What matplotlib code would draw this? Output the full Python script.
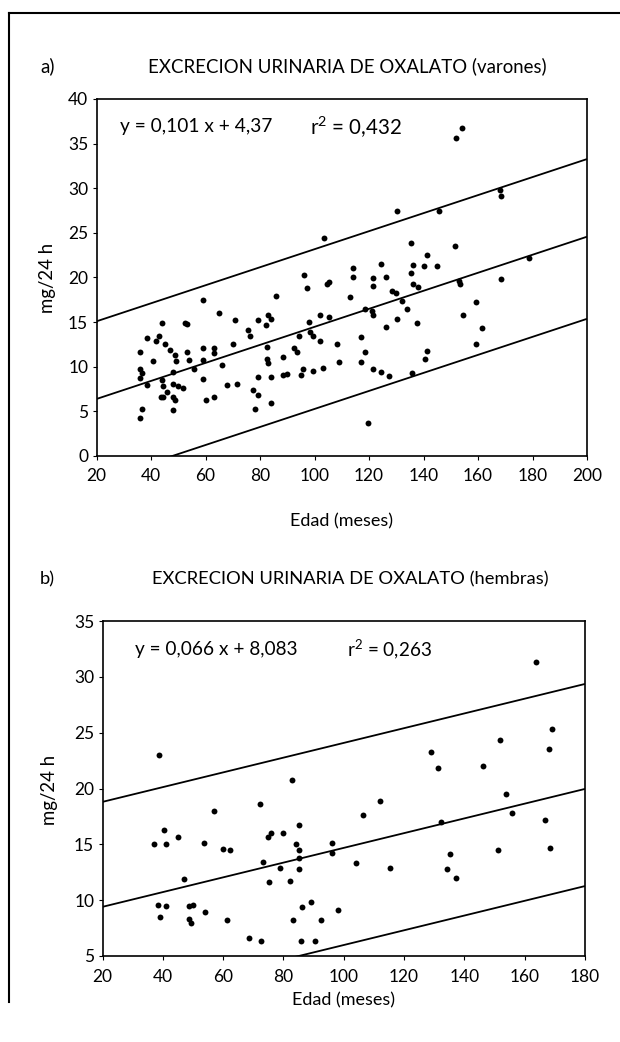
import matplotlib
matplotlib.use("Agg")
import matplotlib.pyplot as plt
from matplotlib.lines import Line2D
import numpy as np

FAM = 'Lato'
plt.rcParams['font.family'] = [FAM, 'DejaVu Sans']
plt.rcParams['mathtext.fontset'] = 'custom'
plt.rcParams['mathtext.rm'] = FAM

# ---------------- data: panel a (varones) ----------------
a_x = [103.6, 96.3, 97.1, 104.5, 105.4, 85.9, 59.2, 113.0, 65.1, 53.3, 52.5, 43.9, 70.8, 79.2,
       83.0, 83.9, 82.1, 75.7, 76.3, 98.1, 102.0, 105.4, 98.3, 99.3, 94.2, 102.0, 108.4, 109.1,
       103.2, 99.3, 95.9, 94.9, 92.6, 93.5, 88.3, 89.8, 88.3, 82.7, 82.5, 82.8, 84.0, 84.0, 79.2,
       77.3, 79.2, 78.2, 70.0, 66.1, 63.1, 63.1, 59.2, 59.2, 55.8, 59.2, 68.0, 71.7, 60.1, 63.1,
       53.1, 53.8, 48.8, 49.2, 47.0, 45.1, 41.7, 42.9, 38.6, 36.0, 40.6, 36.0, 36.6, 36.0, 38.6,
       43.9, 44.3, 48.0, 48.2, 50.0, 51.9, 46.0, 43.6, 44.5, 48.0, 48.8, 48.0, 36.6, 36.0,
       124.3, 136.3, 140.2, 145.1, 114.2, 114.2, 121.4, 121.4, 126.2, 135.4, 136.3, 138.1, 128.3,
       129.9, 153.1, 153.3, 168.4, 132.0, 134.0, 118.5, 121.0, 121.4, 130.2, 137.5, 126.2, 154.4,
       159.2, 161.4, 159.3, 117.1, 118.5, 117.1, 121.4, 124.3, 127.3, 135.7, 141.4, 140.6, 119.7,
       154.0, 151.9, 130.2, 145.8, 168.1, 168.3, 135.4, 151.6, 141.2, 178.7]
a_y = [24.4, 20.3, 18.8, 19.3, 19.5, 17.9, 17.5, 17.8, 16.0, 14.8, 14.9, 14.9, 15.2, 15.2,
       15.8, 15.3, 14.7, 14.1, 13.4, 15.0, 15.8, 15.6, 13.9, 13.5, 13.5, 12.9, 12.5, 10.5,
       9.9, 9.5, 9.8, 9.1, 12.1, 11.7, 11.1, 9.2, 9.1, 12.2, 10.9, 10.4, 8.8, 5.9, 8.8,
       7.4, 6.8, 5.3, 12.5, 10.2, 12.1, 11.5, 12.1, 10.8, 9.7, 8.6, 8.0, 8.1, 6.3, 6.6,
       11.6, 10.8, 11.3, 10.6, 11.9, 12.6, 12.9, 13.5, 13.2, 11.7, 10.6, 9.7, 9.3, 8.7, 8.0,
       8.5, 7.8, 9.4, 8.1, 7.8, 7.6, 7.2, 6.6, 6.6, 6.6, 6.3, 5.2, 5.3, 4.3,
       21.5, 21.4, 21.3, 21.3, 21.1, 20.1, 19.9, 19.1, 20.1, 20.5, 19.3, 18.9, 18.5,
       18.3, 19.6, 19.3, 19.8, 17.4, 16.5, 16.5, 16.3, 15.8, 15.4, 14.9, 14.5, 15.8,
       17.2, 14.3, 12.6, 13.3, 11.7, 10.5, 9.7, 9.4, 9.0, 9.3, 11.8, 10.9, 3.7,
       36.7, 35.6, 27.5, 27.5, 29.8, 29.1, 23.9, 23.5, 22.5, 22.2]
a_slope, a_intercept = 0.101, 4.37
a_band_up, a_band_low = 8.7, 9.2
a_xticks = [20, 40, 60, 80, 100, 120, 140, 160, 180, 200]
a_yticks = [0, 5, 10, 15, 20, 25, 30, 35, 40]
a_eq = "y = 0,101 x + 4,37"
a_r2 = "r$^2$ = 0,432"
a_title = "EXCRECION URINARIA DE OXALATO (varones)"

# ---------------- data: panel b (hembras) ----------------
b_x = [38.7, 56.9, 72.1, 82.9, 163.6, 168.9, 168.0, 151.7, 129.0, 131.2, 146.1, 111.9, 106.3,
       153.9, 155.8, 166.9, 40.3, 37.1, 41.1, 45.2, 53.8, 60.0, 62.4, 46.9, 74.9, 75.9, 79.8,
       85.0, 84.2, 85.3, 85.2, 85.2, 73.2, 79.0, 75.1, 82.3, 96.2, 96.2, 38.3, 41.1, 39.2, 48.6,
       50.0, 48.6, 49.4, 54.1, 61.3, 68.5, 72.4, 86.2, 89.2, 83.2, 92.4, 98.0, 85.7, 90.4,
       132.3, 168.3, 151.2, 135.2, 134.1, 137.1, 115.2, 104.2]
b_y = [23.0, 18.0, 18.6, 20.8, 31.3, 25.3, 23.5, 24.3, 23.3, 21.8, 22.0, 18.9, 17.6,
       19.5, 17.8, 17.2, 16.3, 15.0, 15.0, 15.7, 15.1, 14.6, 14.5, 11.9, 15.7, 16.0, 16.0,
       16.7, 15.0, 14.5, 13.8, 12.8, 13.4, 12.9, 11.6, 11.7, 15.1, 14.2, 9.6, 9.5, 8.5, 9.5,
       9.6, 8.3, 8.0, 8.9, 8.2, 6.6, 6.3, 9.4, 9.8, 8.2, 8.2, 9.1, 6.3, 6.3,
       17.0, 14.7, 14.5, 14.1, 12.8, 12.0, 12.9, 13.3]
b_slope, b_intercept = 0.066, 8.083
b_band_up, b_band_low = 9.4, 8.7
b_xticks = [20, 40, 60, 80, 100, 120, 140, 160, 180]
b_yticks = [5, 10, 15, 20, 25, 30, 35]
b_eq = "y = 0,066 x + 8,083"
b_r2 = "r$^2$ = 0,263"
b_title = "EXCRECION URINARIA DE OXALATO (hembras)"

xlabel = "Edad (meses)"
ylabel = "mg/24 h"

W, H = 620, 1042
fig = plt.figure(figsize=(W / 100, H / 100), dpi=100)
renderer = fig.canvas.get_renderer()

TICK_FS = 12.5
LAB_FS = 13


def fit(t, target_px, horizontal=True):
    """scale font size so the rendered text has the given pixel extent"""
    bb = t.get_window_extent(renderer=renderer)
    w = bb.width if horizontal else bb.height
    if w > 0:
        t.set_fontsize(t.get_fontsize() * target_px / w)
    return t


def fx(px):
    return px / W


def fy(py):
    return 1 - py / H


def px_ax(l, r, t, b):
    return [l / W, 1 - b / H, (r - l) / W, (b - t) / H]


def panel(box, xs, ys, slope, inter, up, low, xticks, yticks):
    l, r, t, b = box
    ax = fig.add_axes(px_ax(l, r, t, b))
    x0, x1 = xticks[0], xticks[-1]
    xx = np.array([x0, x1], dtype=float)
    yy = slope * xx + inter
    for off in (0.0, up, -low):
        ax.plot(xx, yy + off, color='black', lw=1.3, solid_capstyle='butt')
    ax.scatter(xs, ys, s=18, color='black', zorder=3, linewidths=0)
    ax.set_xlim(x0, x1)
    ax.set_ylim(yticks[0], yticks[-1])
    ax.set_xticks(xticks)
    ax.set_yticks(yticks)
    ax.tick_params(direction='out', length=3, width=0.8, labelsize=TICK_FS, colors='black')
    ax.tick_params(axis='x', pad=6)
    ax.tick_params(axis='y', pad=3)
    for s in ax.spines.values():
        s.set_linewidth(1.2)
        s.set_color('black')
    return ax


boxa = (96.5, 587, 99, 456)
axa = panel(boxa, a_x, a_y, a_slope, a_intercept, a_band_up, a_band_low, a_xticks, a_yticks)
boxb = (102.5, 585, 621, 956)
axb = panel(boxb, b_x, b_y, b_slope, b_intercept, b_band_up, b_band_low, b_xticks, b_yticks)

texts = []
texts.append((fig.text(fx(120), fy(127), a_eq, va='center', ha='left', fontsize=LAB_FS), 152))
texts.append((fig.text(fx(310), fy(127), a_r2, va='center', ha='left', fontsize=LAB_FS), 92))
texts.append((fig.text(fx(135), fy(650), b_eq, va='center', ha='left', fontsize=LAB_FS), 162))
texts.append((fig.text(fx(347), fy(650), b_r2, va='center', ha='left', fontsize=LAB_FS), 85))
ta = fig.text(fx(347), fy(66), a_title, va='center', ha='center', fontsize=LAB_FS)
tb = fig.text(fx(350), fy(579), b_title, va='center', ha='center', fontsize=LAB_FS)
texts.append((ta, 395))
texts.append((tb, 396))
texts.append((fig.text(fx(341), fy(521), xlabel, va='center', ha='center', fontsize=LAB_FS), 103))
texts.append((fig.text(fx(343), fy(1000), xlabel, va='center', ha='center', fontsize=LAB_FS), 103))
for t, wpx in texts:
    fit(t, wpx)

yl1 = fig.text(fx(47), fy(278), ylabel, rotation=90, va='center', ha='center', fontsize=LAB_FS)
yl2 = fig.text(fx(50), fy(790), ylabel, rotation=90, va='center', ha='center', fontsize=LAB_FS)
fit(yl1, 70, horizontal=False)
fit(yl2, 70, horizontal=False)

fig.text(fx(40), fy(66), "a)", fontsize=ta.get_fontsize(), va='center', ha='left')
fig.text(fx(40), fy(579), "b)", fontsize=tb.get_fontsize(), va='center', ha='left')

fig.add_artist(Line2D([fx(9), 1.0], [fy(13), fy(13)], color='black', lw=1.5,
                      transform=fig.transFigure))
fig.add_artist(Line2D([fx(9), fx(9)], [fy(13), fy(1002)], color='black', lw=1.5,
                      transform=fig.transFigure))

fig.savefig("out.png", dpi=100)
